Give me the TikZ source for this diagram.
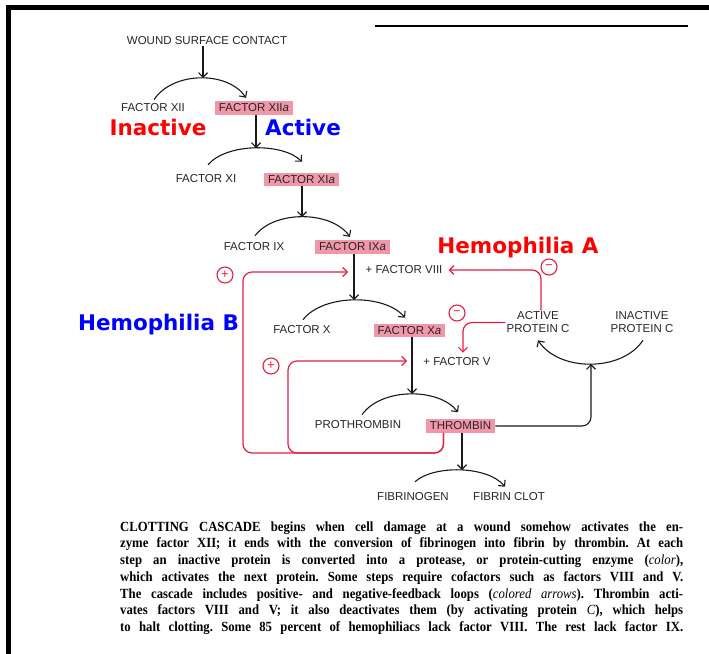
\documentclass[tikz,border=0pt]{standalone}
\usepackage{fontspec}
\setmainfont{Liberation Serif}
\newfontfamily\capfont[FakeStretch=0.91]{Liberation Serif}
\newfontfamily\labelfont{Liberation Sans}
\newfontfamily\comicfont{DejaVu Sans}
\usetikzlibrary{arrows.meta}
\definecolor{pinkfill}{RGB}{242,150,170}
\definecolor{fbred}{RGB}{228,30,70}
\definecolor{hred}{RGB}{255,0,0}
\definecolor{hblue}{RGB}{0,0,255}
\frenchspacing
\newcommand{\capline}[1]{\makebox[563pt][s]{#1}}
\newcommand{\capit}[1]{{\mdseries\itshape #1\/}}
\begin{document}
\begin{tikzpicture}[x=1pt,y=-1pt,
  lbl/.style={font=\labelfont\fontsize{11.5}{13}\selectfont, inner sep=1pt, text=black!85},
  actbox/.style={lbl, fill=pinkfill, inner xsep=4pt, inner ysep=2.5pt},
  bigtxt/.style={font=\comicfont\bfseries\fontsize{21.5}{22}\selectfont, inner sep=0pt, anchor=base},
  arr/.style={draw=black!90, line width=1.1pt, -{Straight Barb[length=4.5pt,width=9pt]}},
  fbarr/.style={draw=fbred, line width=1.2pt, rounded corners=9pt, -{Straight Barb[length=4.5pt,width=9pt]}},
  sgn/.style={circle, draw=fbred, line width=1.1pt, minimum size=16pt, inner sep=0pt, text=fbred, font=\labelfont\fontsize{13}{13}\selectfont},
  captionline/.style={anchor=base west, inner sep=0pt, font=\capfont\bfseries\fontsize{14}{15}\selectfont}
]
\useasboundingbox (0,0) rectangle (709,653);
% frame
\draw[line width=5pt] (8.5,660) -- (8.5,7.5) -- (715,7.5);
\draw[line width=1.2pt] (375,26) -- (688,26);

% labels
\node[lbl] (wound) at (207,41) {WOUND SURFACE CONTACT};
\node[lbl] (f12) at (153,108) {FACTOR XII};
\node[actbox] (f12a) at (254,108) {FACTOR XII\textit{a}};
\node[lbl] (f11) at (206,179) {FACTOR XI};
\node[actbox] (f11a) at (301.5,179.5) {FACTOR XI\textit{a}};
\node[lbl] (f9) at (254,247) {FACTOR IX};
\node[actbox] (f9a) at (352.5,247) {FACTOR IX\textit{a}};
\node[lbl] (f8) at (404,270) {+ FACTOR VIII};
\node[lbl] (f10) at (302,330) {FACTOR X};
\node[actbox] (f10a) at (409.5,330.5) {FACTOR X\textit{a}};
\node[lbl] (f5) at (457,362) {+ FACTOR V};
\node[lbl, align=center] (apc) at (538,322.5) {ACTIVE\\PROTEIN C};
\node[lbl, align=center] (ipc) at (642,322.5) {INACTIVE\\PROTEIN C};
\node[lbl] (proth) at (358,425) {PROTHROMBIN};
\node[actbox] (thr) at (460.5,426) {THROMBIN};
\node[lbl] (fibgen) at (413,497) {FIBRINOGEN};
\node[lbl] (fibclot) at (509,497) {FIBRIN CLOT};

% annotation labels
\node[bigtxt, text=hred] (inact) at (158,135) {Inactive};
\node[bigtxt, text=hblue] (actl) at (303,135) {Active};
\node[bigtxt, text=hred] (hemA) at (518,253) {Hemophilia A};
\node[bigtxt, text=hblue] (hemB) at (158.5,330) {Hemophilia B};

% sign circles
\node[sgn] (m1) at (549,267) {−};
\node[sgn] (m2) at (457,313) {−};
\node[sgn] (p1) at (225,275) {+};
\node[sgn] (p2) at (271,366) {+};

% peaks of reaction arcs
\coordinate (pk1) at (203,78);
\coordinate (pk2) at (256,148);
\coordinate (pk3) at (302,217);
\coordinate (pk4) at (354,300);
\coordinate (pk5) at (412,394);
\coordinate (pk6) at (462,470);
\coordinate (pcb) at (591,364);

% activation arrows
\draw[arr] (wound.south -| pk1) -- (pk1);
\draw[arr] (f12a.south -| pk2) -- (pk2);
\draw[arr] (f11a.south -| pk3) -- (pk3);
\draw[arr] (f9a.south -| pk4) -- (pk4);
\draw[arr] (f10a.south -| pk5) -- (pk5);
\draw[arr] (thr.south -| pk6) -- (pk6);
\draw[arr, rounded corners=9pt] (thr.east) -| (pcb);

% reaction arcs
\draw[arr] ([shift={(1,-3)}]f12.north) .. controls (173,71) and (228,71) .. ([shift={(-8,-3.4)}]f12a.north);
\draw[arr] ([shift={(2,-9)}]f11.north) .. controls (227,142.8) and (283,142.8) .. ([shift={(0.5,-11)}]f11a.north);
\draw[arr] ([shift={(1,-6)}]f9.north) .. controls (274,210.3) and (331,210.3) .. ([shift={(-2.5,-3.4)}]f9a.north);
\draw[arr] ([shift={(1,-5)}]f10.north) .. controls (323,293.7) and (385,293.7) .. ([shift={(-4.5,-6)}]f10a.north);
\draw[arr] ([shift={(4,-5)}]proth.north) .. controls (381,387.5) and (439,387.5) .. ([shift={(-2.5,-7)}]thr.north);
\draw[arr] ([shift={(2,-10)}]fibgen.north) .. controls (433,465.2) and (487,465.2) .. ([shift={(-4,-5)}]fibclot.north);
\draw[arr] ([shift={(1,6)}]ipc.south) .. controls (622,372) and (559,372) .. ([shift={(0,6)}]apc.south);

% feedback loops
\coordinate (lb) at (243,453);
\coordinate (lt) at (243,272);
\coordinate (t8) at (348,272);
\coordinate (ib) at (288,453);
\coordinate (it) at (288,361);
\coordinate (t5) at (407,361);
\draw[fbarr] ([xshift=-17]thr.south) |- (lb) -- (lt) -- (t8);
\draw[fbarr] ([xshift=-17]thr.south) |- (ib) -- (it) -- (t5);
\draw[fbarr] ([xshift=3]apc.north) |- ([xshift=5]f8.east);
\draw[fbarr] (apc.west) -| ([shift={(6,-4)}]f5.north);

% caption
\node[captionline] (c1) at (120,531) {\capline{CLOTTING CASCADE begins when cell damage at a wound somehow activates the en-}};
\node[captionline] (c2) at (120,547.7) {\capline{zyme factor XII; it ends with the conversion of fibrinogen into fibrin by thrombin. At each}};
\node[captionline] (c3) at (120,564.5) {\capline{step an inactive protein is converted into a protease, or protein-cutting enzyme (\capit{color}),}};
\node[captionline] (c4) at (120,581.2) {\capline{which activates the next protein. Some steps require cofactors such as factors VIII and V.}};
\node[captionline] (c5) at (120,598) {\capline{The cascade includes positive- and negative-feedback loops (\capit{colored arrows}). Thrombin acti-}};
\node[captionline] (c6) at (120,614.7) {\capline{vates factors VIII and V; it also deactivates them (by activating protein \capit{C}), which helps}};
\node[captionline] (c7) at (120,631.5) {\capline{to halt clotting. Some 85 percent of hemophiliacs lack factor VIII. The rest lack factor IX.}};
\end{tikzpicture}
\end{document}
